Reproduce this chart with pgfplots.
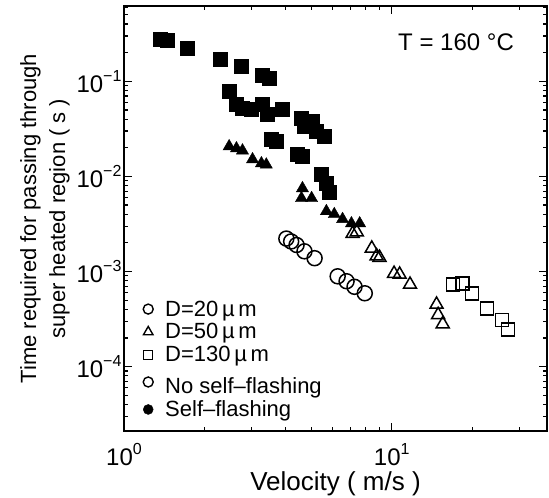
\documentclass[border=0pt]{standalone}
\usepackage{fontspec}
\setmainfont{Liberation Sans}
\usepackage{pgfplots}
\pgfplotsset{compat=1.18}
\usetikzlibrary{calc}

\newcommand{\tl}[1]{10\raisebox{0.45em}{\fontsize{16}{16}\selectfont #1}}

% filled = self-flashing, open = no self-flashing
\pgfplotstableread{
x y
1.37 0.280
1.45 0.270
1.72 0.222
2.29 0.171
2.74 0.144
3.29 0.116
3.49 0.108
2.47 0.0785
2.63 0.058
2.77 0.052
2.99 0.0507
3.29 0.058
3.43 0.045
3.91 0.051
4.60 0.041
4.72 0.034
5.06 0.038
5.23 0.0298
5.61 0.0264
3.55 0.0245
3.71 0.0234
4.45 0.0172
4.64 0.0162
5.47 0.0105
5.70 0.0085
5.85 0.0069
}\sqfilled
\pgfplotstableread{
x y
2.47 0.0207
2.63 0.0197
2.77 0.0187
3.02 0.0151
3.26 0.0137
3.40 0.0133
4.64 0.0075
4.60 0.0059
5.02 0.0059
5.70 0.0043
6.10 0.0040
6.55 0.00355
7.07 0.0032
7.59 0.0032
}\trifilled
\pgfplotstableread{
x y
7.14 0.0025
7.40 0.0026
8.42 0.00175
8.78 0.00145
9.00 0.0014
10.2 0.00095
10.7 0.00093
11.7 0.00073
14.7 0.00045
14.9 0.00035
15.5 0.00028
}\triopen
\pgfplotstableread{
x y
16.9 0.00073
18.4 0.00075
19.9 0.00059
22.7 0.00041
25.8 0.00031
27.2 0.000246
}\sqopen
\pgfplotstableread{
x y
4.04 0.00222
4.21 0.00207
4.41 0.0019
4.72 0.00163
5.15 0.00138
6.28 0.00089
6.78 0.00079
7.26 0.00069
7.93 0.00059
}\circopen

\begin{document}
\begin{tikzpicture}[font=\fontsize{22}{25}\selectfont]
\begin{loglogaxis}[
  scale only axis, width=423pt, height=425pt,
  xmin=1, xmax=38, ymin=2.1e-5, ymax=0.62,
  log basis x=10, log basis y=10,
  xtick={1,10}, xticklabels={\tl{0},\tl{1}},
  minor xtick={2,3,4,5,6,7,8,9,20,30},
  ytick={1e-4,1e-3,1e-2,1e-1},
  yticklabels={\tl{−4},\tl{−3},\tl{−2},\tl{−1}},
  minor ytick={3e-5,4e-5,5e-5,6e-5,7e-5,8e-5,9e-5,
    2e-4,3e-4,4e-4,5e-4,6e-4,7e-4,8e-4,9e-4,
    2e-3,3e-3,4e-3,5e-3,6e-3,7e-3,8e-3,9e-3,
    2e-2,3e-2,4e-2,5e-2,6e-2,7e-2,8e-2,9e-2,
    2e-1,3e-1,4e-1,5e-1,6e-1},
  tick align=inside,
  major tick length=8pt, minor tick length=4pt,
  axis line style={line width=1.6pt},
  every tick/.style={black, line width=1.2pt},
  tick label style={font=\fontsize{24}{26}\selectfont},
  xticklabel style={yshift=-9pt},
  yticklabel style={xshift=1pt},
  xlabel={Velocity ( m/s )},
  xlabel style={font=\fontsize{26}{28}\selectfont, yshift=1pt},
  ylabel={Time required for passing through\\super heated region ( s )},
  ylabel style={align=center, font=\fontsize{22}{29}\selectfont},
  legend style={at={(rel axis cs:0.045,0.025)}, anchor=south west,
    draw=none, fill=none, row sep=2pt, inner sep=0pt,
    /tikz/column sep=10pt},
  legend cell align=left,
]
\addplot[only marks, mark=square*, mark size=7pt, draw=black, fill=black, forget plot] table {\sqfilled};
\addplot[only marks, mark=triangle*, mark size=7pt, draw=black, fill=black, forget plot] table {\trifilled};
\addplot[only marks, mark=triangle, mark size=7.5pt, line width=1.5pt, black, forget plot] table {\triopen};
\addplot[only marks, mark=square, mark size=6.5pt, line width=1.5pt, black, forget plot] table {\sqopen};
\addplot[only marks, mark=o, mark size=7.5pt, line width=1.5pt, black, forget plot] table {\circopen};

\addlegendimage{only marks, mark=o, mark size=5pt, line width=1.4pt, black}
\addlegendentry{D=20\,µ\,m}
\addlegendimage{only marks, mark=triangle, mark size=5.5pt, line width=1.4pt, black}
\addlegendentry{D=50\,µ\,m}
\addlegendimage{only marks, mark=square, mark size=4.5pt, line width=1.4pt, black}
\addlegendentry{D=130\,µ\,m}
\addlegendimage{only marks, mark=o, mark size=5pt, line width=1.4pt, black}
\addlegendentry{\rule{0pt}{24pt}No self–flashing}
\addlegendimage{only marks, mark=*, mark size=5pt, black}
\addlegendentry{Self–flashing}

\node[anchor=east, font=\fontsize{24}{26}\selectfont] at (rel axis cs:0.93,0.914) {T = 160 °C};
\end{loglogaxis}
\pgfresetboundingbox
\path[use as bounding box] ($(current axis.south west)+(-124pt,-67pt)$) rectangle ++(549pt,498pt);
\end{tikzpicture}
\end{document}
